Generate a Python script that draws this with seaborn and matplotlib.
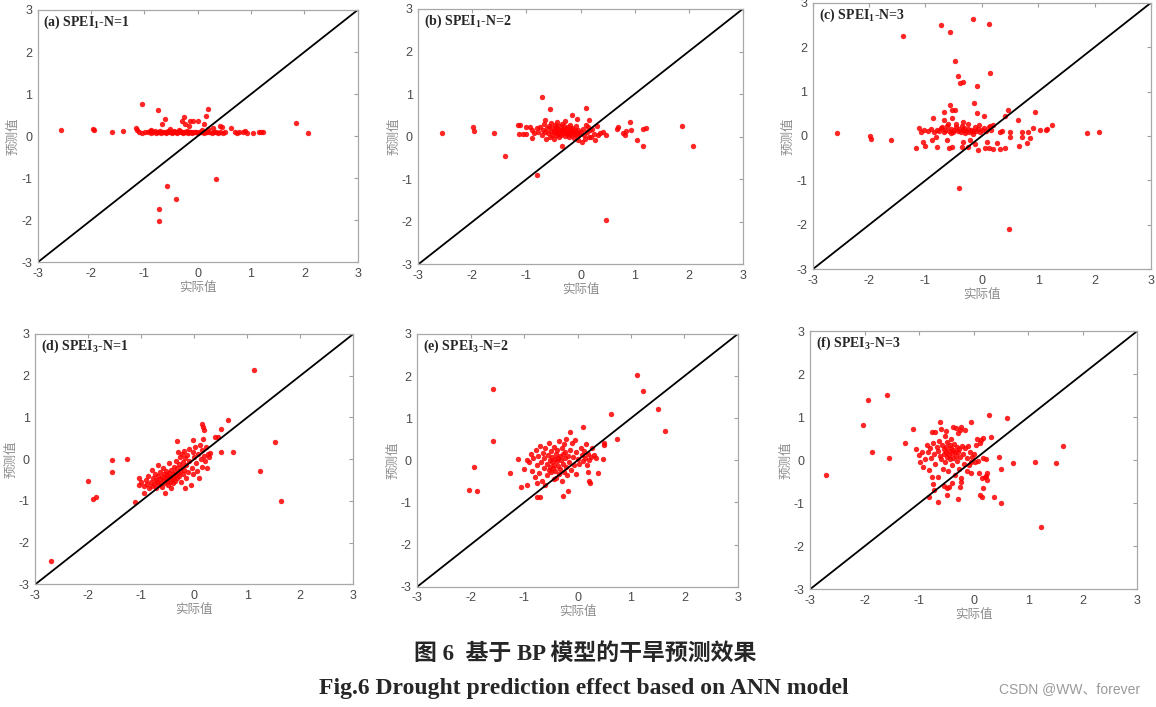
import numpy as np
import pandas as pd
import matplotlib.pyplot as plt
import seaborn as sns

# (actual, predicted) pairs
pts_a = [
    (-2.56, 0.15), (-1.97, 0.17), (-1.95, 0.15), (-1.61, 0.09), (-1.40, 0.12), (-1.16, 0.19), (-1.14, 0.14),
    (-1.04, 0.76), (-0.74, 0.61), (-0.61, 0.41), (-0.66, 0.28), (-0.26, 0.45), (-0.30, 0.37), (-0.23, 0.29),
    (-0.14, 0.37), (-0.09, 0.37), (0.00, 0.37), (-0.16, 0.25), (0.15, 0.49), (0.19, 0.64), (0.11, 0.29),
    (0.29, 0.20), (0.42, 0.23), (0.46, 0.21), (0.63, 0.19), (1.84, 0.31), (2.07, 0.08),
    (-0.57, -1.18), (-0.40, -1.49), (-0.72, -1.73), (-0.72, -2.01), (0.34, -1.02),
    (-1.10, 0.10), (-1.05, 0.08), (-0.98, 0.11), (-0.93, 0.09), (-0.90, 0.13), (-0.87, 0.08), (-0.83, 0.10),
    (-0.80, 0.12), (-0.78, 0.08), (-0.75, 0.10), (-0.72, 0.09), (-0.70, 0.12), (-0.68, 0.08), (-0.65, 0.10),
    (-0.62, 0.11), (-0.60, 0.08), (-0.58, 0.10), (-0.55, 0.13), (-0.53, 0.09), (-0.50, 0.11), (-0.48, 0.08),
    (-0.46, 0.10), (-0.44, 0.12), (-0.42, 0.09), (-0.40, 0.11), (-0.38, 0.08), (-0.36, 0.10), (-0.34, 0.12),
    (-0.32, 0.09), (-0.30, 0.10), (-0.28, 0.08), (-0.26, 0.11), (-0.24, 0.09), (-0.22, 0.10), (-0.20, 0.12),
    (-0.18, 0.08), (-0.16, 0.10), (-0.14, 0.09), (-0.12, 0.11), (-0.10, 0.08), (-0.08, 0.10), (-0.05, 0.09),
    (-0.03, 0.11), (0.00, 0.08), (0.03, 0.10), (0.06, 0.09), (0.09, 0.11), (0.12, 0.08), (0.15, 0.10),
    (0.18, 0.09), (0.22, 0.11), (0.26, 0.08), (0.30, 0.10), (0.34, 0.09), (0.38, 0.08), (0.42, 0.10),
    (0.47, 0.08), (0.52, 0.09), (0.70, 0.09), (0.73, 0.08), (0.78, 0.10), (0.85, 0.09), (0.88, 0.12),
    (0.92, 0.08), (1.03, 0.08), (1.15, 0.09), (1.18, 0.10), (1.22, 0.09),
    (-0.88, 0.15), (-0.52, 0.16), (-0.35, 0.15), (0.20, 0.17), (0.08, 0.14),
]

pts_b = [
    (-2.57, 0.09), (-1.98, 0.23), (-1.97, 0.13), (-1.61, 0.08), (-1.40, -0.45), (-0.81, -0.90),
    (-0.72, 0.94), (-0.56, 0.64), (-0.16, 0.51), (0.11, 0.67), (-0.07, 0.41), (0.15, 0.39), (0.48, -1.96),
    (0.91, 0.35), (0.70, 0.23), (0.68, 0.17), (0.85, 0.14), (0.94, 0.16), (1.04, -0.08), (1.16, 0.17),
    (1.22, 0.20), (1.16, -0.23), (1.87, 0.25), (2.08, -0.22), (0.79, 0.08), (0.82, 0.04),
    (0.33, 0.04), (0.36, 0.09), (0.48, 0.04), (0.30, 0.25), (0.42, 0.12),
    (-1.15, 0.27), (-1.12, 0.27), (-1.13, 0.06), (-1.00, 0.23), (-0.93, 0.23), (-0.90, 0.16), (-1.00, 0.06),
    (-1.06, 0.06), (-0.90, -0.04), (-0.87, 0.08), (-0.81, 0.20), (-0.78, 0.12), (-0.75, 0.23),
    (-0.72, 0.05), (-0.70, 0.15), (-0.68, 0.30), (-0.66, 0.38), (-0.65, 0.10), (-0.63, -0.05), (-0.62, 0.20),
    (-0.60, 0.08), (-0.58, 0.25), (-0.57, 0.00), (-0.55, 0.14), (-0.54, 0.32), (-0.53, 0.05), (-0.52, 0.20),
    (-0.50, 0.10), (-0.49, -0.06), (-0.48, 0.28), (-0.47, 0.16), (-0.46, 0.03), (-0.45, 0.22), (-0.44, 0.12),
    (-0.43, 0.35), (-0.42, 0.06), (-0.41, 0.18), (-0.40, -0.02), (-0.39, 0.26), (-0.38, 0.10), (-0.37, 0.15),
    (-0.36, 0.04), (-0.35, 0.30), (-0.34, -0.23), (-0.33, 0.19), (-0.32, 0.08), (-0.31, 0.13), (-0.30, 0.24),
    (-0.29, 0.02), (-0.28, 0.36), (-0.27, 0.11), (-0.26, 0.17), (-0.25, 0.06), (-0.24, 0.22), (-0.23, 0.09),
    (-0.22, 0.14), (-0.21, 0.00), (-0.20, 0.27), (-0.19, 0.12), (-0.18, 0.18), (-0.17, 0.05), (-0.16, 0.09),
    (-0.15, 0.20), (-0.14, 0.13), (-0.13, -0.03), (-0.12, 0.10), (-0.11, 0.16), (-0.10, 0.06), (-0.09, 0.24),
    (-0.08, 0.11), (-0.06, 0.03), (-0.05, 0.15), (-0.04, -0.08), (-0.02, 0.08), (0.00, 0.12), (0.02, -0.12),
    (0.04, 0.18), (0.06, 0.05), (0.08, -0.05), (0.10, 0.28), (0.12, 0.10), (0.14, 0.22), (0.16, 0.00),
    (0.18, 0.15), (0.20, -0.02), (0.22, 0.18), (0.25, 0.06), (0.27, -0.08),
]

pts_c = [
    (-2.56, 0.06), (-1.99, 0.00), (-1.97, -0.06), (-1.61, -0.08), (-1.40, 2.25), (-0.72, 2.50), (-0.56, 2.33),
    (-0.16, 2.63), (0.13, 2.51), (-0.47, 1.69), (-0.42, 1.34), (-0.39, 1.19), (-0.33, 1.22), (-0.09, 1.13),
    (0.15, 1.41), (-0.14, 0.74), (-0.57, 0.70), (-0.48, 0.59), (-0.53, 0.59), (-0.67, 0.53), (-0.09, 0.51),
    (-0.53, 0.40), (-0.86, 0.41), (-0.68, 0.36), (-0.33, 0.32), (0.03, 0.44), (0.46, 0.59), (0.41, 0.44),
    (0.64, 0.36), (0.94, 0.53), (-0.40, -1.16), (0.48, -2.10), (1.87, 0.07), (2.08, 0.09), (1.24, 0.25),
    (1.16, 0.15), (1.14, 0.14), (1.04, 0.14), (0.91, 0.19), (0.82, 0.08), (0.71, 0.10), (0.72, -0.02),
    (0.80, -0.15), (0.86, -0.05), (0.65, -0.22), (0.50, 0.08), (0.35, 0.12), (0.32, 0.10),
    (0.41, -0.28), (0.32, -0.30), (0.20, -0.29), (0.12, -0.28), (0.06, -0.28), (-0.06, -0.32), (-0.24, -0.24),
    (-0.36, -0.24), (-0.53, -0.24), (-0.59, -0.28), (-0.80, -0.24), (-1.01, -0.22), (-1.16, -0.26),
    (-0.61, -0.09), (-0.81, -0.02), (-0.89, -0.09), (-1.04, -0.13),
    (-0.21, -0.09), (-0.33, -0.13), (-0.12, -0.17), (0.09, -0.13), (0.26, -0.15), (0.50, -0.02),
    (-1.12, 0.18), (-1.08, 0.10), (-1.02, 0.14), (-0.95, 0.12), (-0.90, 0.16), (-0.85, 0.10), (-0.80, 0.14),
    (-0.76, 0.12), (-0.72, 0.18), (-0.68, 0.10), (-0.65, 0.14), (-0.62, 0.22), (-0.58, 0.12), (-0.55, 0.16),
    (-0.52, 0.10), (-0.49, 0.14), (-0.46, 0.20), (-0.43, 0.12), (-0.40, 0.15), (-0.37, 0.10), (-0.34, 0.13),
    (-0.31, 0.18), (-0.28, 0.12), (-0.25, 0.15), (-0.22, 0.10), (-0.19, 0.14), (-0.16, 0.12), (-0.13, 0.20),
    (-0.10, 0.11), (-0.07, 0.15), (-0.04, 0.10), (0.00, 0.13), (0.04, 0.17), (0.08, 0.12), (0.12, 0.20),
    (0.16, 0.14), (0.20, 0.24), (-0.60, 0.28), (-0.45, 0.27), (-0.25, 0.26), (-0.05, 0.25), (0.15, 0.22),
    (-0.70, 0.20), (-0.35, 0.22), (-0.55, 0.06), (-0.30, 0.06), (-0.15, 0.05),
]

pts_d = [
    (-2.71, -2.44), (-2.01, -0.52), (-1.92, -0.96), (-1.86, -0.91), (-1.56, -0.02), (-1.56, -0.30),
    (-1.26, 0.00), (-1.11, -1.03), (1.13, 2.13), (0.63, 0.95), (0.50, 0.72), (0.45, 0.54), (0.39, 0.54),
    (0.50, 0.18), (0.74, 0.18), (1.52, 0.42), (1.24, -0.28), (1.64, -1.00), (0.14, 0.84), (0.17, 0.76),
    (0.18, 0.70), (-0.33, 0.43), (-0.02, 0.46),
    (-1.05, -0.45), (-1.05, -0.62), (-1.00, -0.55), (-0.95, -0.80), (-0.95, -0.65), (-0.92, -0.50),
    (-0.90, -0.60), (-0.88, -0.40), (-0.85, -0.70), (-0.82, -0.55), (-0.80, -0.25), (-0.80, -0.65),
    (-0.78, -0.45), (-0.76, -0.60), (-0.75, -0.35), (-0.73, -0.50), (-0.72, -0.70), (-0.70, -0.55),
    (-0.69, -0.40), (-0.68, -0.15), (-0.66, -0.62), (-0.65, -0.48), (-0.64, -0.30), (-0.62, -0.56),
    (-0.61, -0.42), (-0.60, -0.66), (-0.59, -0.20), (-0.58, -0.50), (-0.57, -0.36), (-0.56, -0.82),
    (-0.55, -0.58), (-0.54, -0.44), (-0.53, -0.28), (-0.52, -0.52), (-0.51, -0.38), (-0.50, -0.62),
    (-0.49, -0.46), (-0.48, -0.10), (-0.47, -0.33), (-0.46, -0.55), (-0.45, -0.42), (-0.44, -0.70),
    (-0.43, -0.25), (-0.42, -0.48), (-0.41, -0.36), (-0.40, -0.58), (-0.39, -0.18), (-0.38, -0.44),
    (-0.37, -0.30), (-0.36, -0.52), (-0.35, -0.05), (-0.34, -0.38), (-0.33, -0.22), (-0.32, -0.46),
    (-0.31, 0.18), (-0.30, -0.33), (-0.29, -0.12), (-0.28, -0.40), (-0.27, 0.05), (-0.26, -0.28),
    (-0.25, -0.55), (-0.24, -0.18), (-0.23, 0.12), (-0.22, -0.35), (-0.21, -0.08), (-0.20, 0.20),
    (-0.19, -0.25), (-0.18, -0.70), (-0.17, 0.02), (-0.16, -0.15), (-0.15, -0.45), (-0.14, 0.10),
    (-0.12, -0.30), (-0.10, 0.25), (-0.09, -0.05), (-0.07, -0.62), (-0.05, -0.20), (-0.03, 0.18),
    (-0.02, -0.35), (0.00, 0.05), (0.02, 0.28), (0.03, -0.10), (0.05, -0.28), (0.07, 0.12), (0.08, -0.45),
    (0.10, 0.35), (0.12, 0.00), (0.14, 0.22), (0.15, -0.18), (0.17, 0.48), (0.18, 0.08), (0.20, -0.05),
    (0.22, 0.30), (0.24, -0.20), (0.25, 0.12), (0.28, 0.05), (0.30, 0.15),
]

pts_e = [
    (-2.03, -0.70), (-1.93, -0.15), (-1.88, -0.74), (-1.58, 1.69), (-1.58, 0.47), (-1.26, -0.31),
    (-1.12, 0.04), (-1.05, -0.64), (-0.95, -0.59), (1.12, 2.03), (1.23, 1.65), (1.51, 1.21), (1.63, 0.70),
    (0.62, 1.09), (0.73, 0.50), (0.10, 0.80), (0.50, 0.40), (0.50, 0.36), (0.47, 0.02), (0.38, -0.31),
    (0.22, -0.50), (0.23, -0.53), (0.20, -0.27), (-0.17, -0.73), (-0.28, -0.85), (-0.75, -0.88),
    (-0.71, -0.88), (-0.02, -0.32), (-0.14, 0.68),
    (-0.90, -0.05), (-0.88, 0.15), (-0.85, -0.25), (-0.83, 0.05), (-0.80, -0.40), (-0.78, 0.25),
    (-0.76, -0.12), (-0.74, 0.10), (-0.72, -0.30), (-0.70, 0.35), (-0.68, -0.05), (-0.66, -0.50),
    (-0.65, 0.18), (-0.63, -0.18), (-0.62, 0.05), (-0.60, 0.30), (-0.58, -0.35), (-0.57, -0.08),
    (-0.55, 0.12), (-0.54, -0.22), (-0.53, 0.40), (-0.52, 0.00), (-0.51, -0.15), (-0.50, 0.22),
    (-0.49, -0.28), (-0.48, -0.05), (-0.47, 0.08), (-0.46, -0.18), (-0.45, 0.32), (-0.44, -0.10),
    (-0.43, 0.02), (-0.42, -0.25), (-0.41, 0.15), (-0.40, -0.42), (-0.39, -0.02), (-0.38, 0.25),
    (-0.37, -0.14), (-0.36, 0.06), (-0.35, -0.32), (-0.34, 0.45), (-0.33, 0.10), (-0.32, -0.20),
    (-0.31, 0.00), (-0.30, 0.30), (-0.29, -0.48), (-0.28, 0.14), (-0.27, -0.08), (-0.26, 0.38),
    (-0.25, -0.28), (-0.24, 0.05), (-0.23, 0.20), (-0.22, -0.15), (-0.21, 0.50), (-0.20, -0.35),
    (-0.18, 0.10), (-0.16, -0.05), (-0.14, 0.25), (-0.12, -0.22), (-0.10, 0.40), (-0.08, 0.08),
    (-0.06, -0.12), (-0.04, 0.48), (-0.02, 0.20), (0.00, 0.02), (0.03, -0.08), (0.06, 0.30), (0.08, 0.12),
    (0.10, -0.02), (0.12, 0.22), (0.14, 0.06), (0.16, 0.38), (0.18, -0.10), (0.20, 0.15), (0.22, 0.00),
    (0.25, 0.08), (0.28, 0.30), (0.30, 0.12), (0.35, 0.05), (-0.95, 0.00), (-1.00, -0.20), (-0.75, -0.55),
    (-0.60, -0.58), (-0.45, -0.45),
]

pts_f = [
    (-2.71, -0.34), (-2.02, 0.82), (-1.93, 1.40), (-1.87, 0.18), (-1.58, 1.51), (-1.56, 0.06), (-1.25, 0.41),
    (-1.11, 0.72), (-1.06, 0.27), (-0.77, 0.66), (-0.61, 0.88), (-0.05, 0.89), (0.29, 1.05), (0.62, 0.99),
    (0.32, 0.53), (0.07, 0.48), (0.18, 0.51), (0.13, 0.47), (0.47, 0.07), (0.50, -0.21), (0.73, -0.07),
    (1.12, -0.05), (1.51, -0.07), (1.64, 0.33), (1.23, -1.56), (0.50, -0.99), (0.38, -0.85), (0.15, -0.85),
    (0.12, -0.82), (0.18, -0.65), (0.23, -0.37), (0.24, -0.45), (-0.28, -0.90), (-0.49, -0.81),
    (-0.66, -0.98), (-0.82, -0.85), (-0.72, -0.69), (-0.48, -0.65), (-0.25, -0.62), (-0.24, -0.50),
    (-1.00, 0.12), (-0.98, -0.05), (-0.95, 0.20), (-0.92, -0.15), (-0.90, 0.02), (-0.86, 0.35), (-0.84, 0.18),
    (-0.82, -0.22), (-0.80, 0.28), (-0.78, 0.05), (-0.76, -0.38), (-0.74, 0.40), (-0.72, 0.15), (-0.70, -0.10),
    (-0.68, 0.30), (-0.66, 0.22), (-0.65, -0.40), (-0.63, 0.45), (-0.62, 0.10), (-0.60, 0.02), (-0.58, 0.36),
    (-0.57, -0.20), (-0.55, 0.25), (-0.54, 0.14), (-0.53, 0.55), (-0.52, -0.05), (-0.51, 0.30), (-0.50, 0.18),
    (-0.49, 0.08), (-0.48, 0.42), (-0.47, -0.25), (-0.46, 0.22), (-0.45, 0.12), (-0.44, 0.35), (-0.43, 0.02),
    (-0.42, 0.28), (-0.41, 0.48), (-0.40, 0.16), (-0.39, -0.12), (-0.38, 0.24), (-0.37, 0.06), (-0.36, 0.38),
    (-0.35, 0.20), (-0.34, -0.35), (-0.33, 0.10), (-0.32, 0.75), (-0.31, 0.30), (-0.30, -0.02), (-0.29, 0.18),
    (-0.28, 0.62), (-0.27, -0.20), (-0.26, 0.26), (-0.25, 0.08), (-0.24, 0.78), (-0.23, -0.42), (-0.22, 0.33),
    (-0.20, 0.14), (-0.18, -0.08), (-0.16, 0.70), (-0.15, 0.28), (-0.13, -0.25), (-0.12, 0.05), (-0.10, 0.32),
    (-0.08, -0.12), (-0.06, 0.18), (-0.05, -0.30), (-0.03, 0.08), (0.00, 0.15), (0.02, -0.05), (0.05, 0.35),
    (0.08, -0.02), (0.10, -0.30), (0.12, 0.40), (0.15, -0.42), (0.18, 0.05), (0.20, -0.38), (0.22, 0.02),
    (0.25, -0.30), (-0.70, 0.65), (-0.60, 0.72), (-0.50, 0.68), (-0.38, 0.76), (-0.25, 0.70), (-0.75, -0.55),
    (-0.55, -0.60), (-0.40, -0.52), (-0.05, -0.05), (-0.45, -0.62),
]

titles = [r"(a) SPEI$_{\mathbf{1}}$-N=1", r"(b) SPEI$_{\mathbf{1}}$-N=2", r"(c) SPEI$_{\mathbf{1}}$-N=3",
          r"(d) SPEI$_{\mathbf{3}}$-N=1", r"(e) SPEI$_{\mathbf{3}}$-N=2", r"(f) SPEI$_{\mathbf{3}}$-N=3"]
ticks = [-3, -2, -1, 0, 1, 2, 3]

sns.set_style("white")
plt.rcParams['font.family'] = ['Liberation Sans', 'Noto Sans CJK SC']
plt.rcParams['axes.unicode_minus'] = False
plt.rcParams['mathtext.fontset'] = 'custom'
plt.rcParams['mathtext.rm'] = 'Liberation Serif'
plt.rcParams['mathtext.bf'] = 'Liberation Serif:bold'

# axes boxes (left, bottom, width, height) in figure fractions
rects = [
    (0.0326, 0.6290, 0.2768, 0.3569),
    (0.3619, 0.6262, 0.2806, 0.3611),
    (0.7030, 0.6191, 0.2927, 0.3771),
    (0.0305, 0.1735, 0.2751, 0.3541),
    (0.3610, 0.1702, 0.2772, 0.3574),
    (0.7007, 0.1665, 0.2831, 0.3653),
]

fig = plt.figure(figsize=(11.56, 7.07), dpi=100)
for title, pts, rect in zip(titles, [pts_a, pts_b, pts_c, pts_d, pts_e, pts_f], rects):
    ax = fig.add_axes(rect)
    df = pd.DataFrame(pts, columns=['actual', 'pred'])
    sns.scatterplot(data=df, x='actual', y='pred', ax=ax, color='red', s=15,
                    linewidth=0, alpha=0.85)
    ax.plot([-3, 3], [-3, 3], color='black', lw=1.3)
    ax.set_xlim(-3, 3)
    ax.set_ylim(-3, 3)
    ax.set_xticks(ticks)
    ax.set_yticks(ticks)
    ax.tick_params(direction='in', length=3, width=0.8, top=True, right=True,
                   colors='#a0a0a0', labelcolor='#4a4a4a', labelsize=9)
    ax.tick_params(axis='x', pad=4)
    ax.tick_params(axis='y', pad=4)
    for sp in ax.spines.values():
        sp.set_color('#a8a8a8')
        sp.set_linewidth(0.9)
    ax.set_xlabel('实际值', color='#8c8c8c', fontsize=9, labelpad=1)
    ax.set_ylabel('预测值', color='#8c8c8c', fontsize=9, labelpad=1)
    ax.text(0.018, 0.985, title, transform=ax.transAxes, ha='left', va='top',
            fontsize=10, fontweight='bold', family='Liberation Serif')

fig.text(0.506, 0.075, '图 6  基于 BP 模型的干旱预测效果', ha='center', va='center',
         fontsize=16.5, fontweight='bold', family=['Liberation Serif', 'Noto Sans CJK SC'])
fig.text(0.505, 0.0255, 'Fig.6 Drought prediction effect based on ANN model', ha='center', va='center',
         fontsize=17, fontweight='bold', family='Liberation Serif')
fig.text(0.986, 0.0255, 'CSDN @WW、forever', ha='right', va='center', fontsize=10,
         color='#9a9a9a', family=['Liberation Sans', 'Noto Sans CJK SC'])

plt.savefig('out.png', dpi=100)
